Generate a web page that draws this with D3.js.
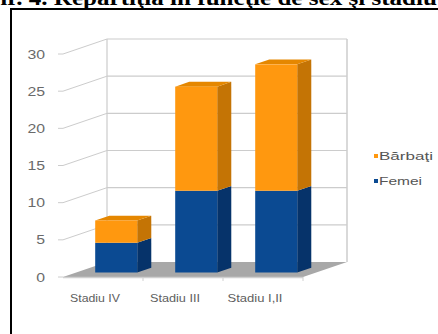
<!DOCTYPE html>
<html>
<head>
<meta charset="utf-8">
<script src="https://cdn.jsdelivr.net/npm/d3@7"></script>
<style>
  html, body { margin: 0; padding: 0; background: #fff; }
  svg { display: block; }
</style>
</head>
<body>
<svg id="chart" width="438" height="334"></svg>
<script>
// Patients by disease stage, split by sex (stacked)
const categories = ["Stadiu IV", "Stadiu III", "Stadiu I,II"];
const femei = [4, 11, 11];
const barbati = [3, 14, 17];
const seriesNames = ["Femei", "Bărbaţi"];
const yTicks = [0, 5, 10, 15, 20, 25, 30];
const title = "Fig. nr. 4. Repartiţia în funcţie de sex şi stadiu";

const svg = d3.select("#chart");

// oblique depth vector of the 3D box
const DX = 44, DY = -15;
const FRONT = 0.3, BACK = 0.62;   // bar depth (fractions of box depth)

const x = d3.scaleBand().domain(categories).range([63, 303]).paddingInner(0).paddingOuter(0);
const y = d3.scaleLinear().domain([0, 30]).range([277, 54]);

const off = (p, t) => [p[0] + DX * t, p[1] + DY * t];
const poly = pts => pts.map(p => p.join(",")).join(" ");
const SANS = "Liberation Sans, Arial, sans-serif";

// title, cut by the top of the page; the whole figure is drawn wide
svg.append("text")
  .attr("x", -54).attr("y", 5)
  .attr("textLength", 491).attr("lengthAdjust", "spacingAndGlyphs")
  .attr("font-family", "Liberation Serif, Times New Roman, serif")
  .attr("font-weight", "bold")
  .attr("font-size", 20)
  .attr("fill", "#000")
  .text(title);

// frame
svg.append("path")
  .attr("d", "M11,334 L11,9 L438,9")
  .attr("fill", "none").attr("stroke", "#000").attr("stroke-width", 2);

const [x0, x1] = x.range();
const gridColor = "#cccccc";

// floor and walls
const g = svg.append("g");
g.append("polygon")
  .attr("points", poly([[x0, y(0)], [x1, y(0)], off([x1, y(0)], 1), off([x0, y(0)], 1)]))
  .attr("fill", "#a8a8a8");

yTicks.forEach(t => {
  const f = [x0, y(t)], b = off(f, 1), br = off([x1, y(t)], 1);
  if (t > 0) {
    g.append("line").attr("x1", f[0]).attr("y1", f[1]).attr("x2", b[0]).attr("y2", b[1])
      .attr("stroke", gridColor).attr("stroke-width", 1);
    g.append("line").attr("x1", b[0]).attr("y1", b[1]).attr("x2", br[0]).attr("y2", br[1])
      .attr("stroke", gridColor).attr("stroke-width", 1.2);
  }
  g.append("line").attr("x1", f[0] - 5).attr("y1", f[1]).attr("x2", f[0]).attr("y2", f[1])
    .attr("stroke", gridColor).attr("stroke-width", 1);
});
const bl0 = off([x0, y(0)], 1), bl1 = off([x0, y(30)], 1);
const br0 = off([x1, y(0)], 1), br1 = off([x1, y(30)], 1);
g.append("line").attr("x1", bl0[0]).attr("y1", bl0[1]).attr("x2", bl1[0]).attr("y2", bl1[1])
  .attr("stroke", gridColor).attr("stroke-width", 1.2);
g.append("line").attr("x1", br0[0]).attr("y1", br0[1]).attr("x2", br1[0]).attr("y2", br1[1])
  .attr("stroke", gridColor).attr("stroke-width", 1.5);

// front category axis
g.append("line").attr("x1", x0).attr("y1", y(0) + 0.5).attr("x2", x1).attr("y2", y(0) + 0.5)
  .attr("stroke", "#d0d0d0").attr("stroke-width", 1.5);
categories.slice(1).forEach(c => {
  g.append("line").attr("x1", x(c)).attr("y1", y(0)).attr("x2", x(c)).attr("y2", y(0) + 4)
    .attr("stroke", "#d0d0d0");
});
g.append("line").attr("x1", x1).attr("y1", y(0)).attr("x2", x1).attr("y2", y(0) + 4).attr("stroke", "#d0d0d0");

// value axis labels
svg.append("g").selectAll("text").data(yTicks).join("text")
  .attr("x", 45).attr("y", d => y(d) + 4.5)
  .attr("text-anchor", "end")
  .attr("font-family", SANS)
  .attr("font-size", 12)
  .attr("textLength", d => String(d).length * 8.8)
  .attr("lengthAdjust", "spacingAndGlyphs")
  .attr("fill", "#6a6a6a")
  .text(d => d);

// category labels
const catWidth = [50, 50, 55];
svg.append("g").selectAll("text").data(categories).join("text")
  .attr("x", (d, i) => x(d) + x.bandwidth() / 2 - 8 - catWidth[i] / 2)
  .attr("y", 302)
  .attr("font-family", SANS)
  .attr("font-size", 11.5)
  .attr("textLength", (d, i) => catWidth[i])
  .attr("lengthAdjust", "spacingAndGlyphs")
  .attr("fill", "#5e5e5e")
  .text(d => d);

// stacked 3D bars
const stackData = categories.map((c, i) => ({ cat: c, Femei: femei[i], "Bărbaţi": barbati[i] }));
const stacked = d3.stack().keys(seriesNames)(stackData);
const palette = {
  "Femei":   { front: "#0b4a92", side: "#06336a", top: "#0d57a6" },
  "Bărbaţi": { front: "#ff980f", side: "#c47405", top: "#e58700" }
};
const barW = x.bandwidth() * 0.525;
const bars = svg.append("g");
categories.forEach((c, i) => {
  const cx = x(c) + x.bandwidth() / 2;
  stacked.forEach((layer, li) => {
    const [v0, v1] = layer[i];
    const col = palette[layer.key];
    const fl = off([cx - barW / 2, y(v0)], FRONT);
    const fr = off([cx + barW / 2, y(v0)], FRONT);
    const tl = off([cx - barW / 2, y(v1)], FRONT);
    const tr = off([cx + barW / 2, y(v1)], FRONT);
    const d = BACK - FRONT;
    bars.append("polygon")
      .attr("points", poly([fr, tr, off(tr, d), off(fr, d)]))
      .attr("fill", col.side);
    if (li === stacked.length - 1) {
      bars.append("polygon")
        .attr("points", poly([tl, tr, off(tr, d), off(tl, d)]))
        .attr("fill", col.top);
    }
    bars.append("rect")
      .attr("x", tl[0]).attr("y", tl[1])
      .attr("width", barW).attr("height", fl[1] - tl[1])
      .attr("fill", col.front);
  });
});

// legend
const legend = svg.append("g");
[["Bărbaţi", 160, 54], ["Femei", 185, 43]].forEach(([name, ly, w]) => {
  legend.append("rect").attr("x", 374).attr("y", ly - 6).attr("width", 4).attr("height", 4)
    .attr("fill", palette[name].front);
  legend.append("text").attr("x", 379).attr("y", ly)
    .attr("font-family", SANS)
    .attr("font-size", 11)
    .attr("textLength", w).attr("lengthAdjust", "spacingAndGlyphs")
    .attr("fill", "#555")
    .text(name);
});
</script>
</body>
</html>
